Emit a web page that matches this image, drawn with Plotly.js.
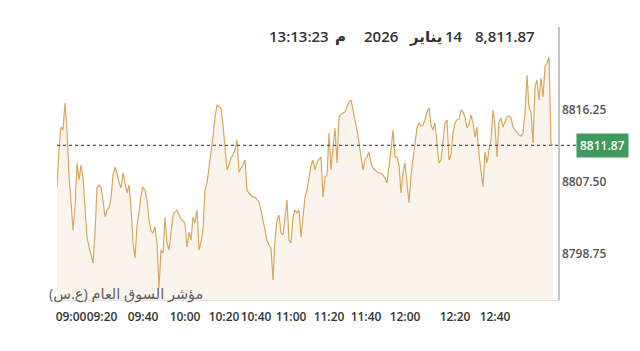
<!DOCTYPE html>
<html>
<head>
<meta charset="utf-8">
<script src="https://cdn.plot.ly/plotly-3.0.1.min.js"></script>
<style>html,body{margin:0;padding:0;background:#fff;}#chart{width:640px;height:351px;}</style>
</head>
<body>
<div id="chart"></div>
<script>
// Index values (one per trade sample)
const values = [
8806.81,8811.30,8814.10,8813.73,8817.02,8813.73,8808.27,8804.62,8801.58,8804.38,
8809.73,8807.66,8809.48,8808.02,8804.01,8800.73,8799.52,8798.67,8797.58,8801.22,
8806.69,8807.05,8806.81,8805.23,8803.16,8804.01,8804.26,8805.47,8808.27,8809.24,
8808.51,8807.42,8806.69,8808.51,8807.30,8806.08,8807.05,8804.38,8800.01,8798.18,
8802.19,8803.65,8805.84,8806.81,8806.44,8805.23,8802.80,8801.46,8801.22,8801.95,
8800.01,8794.54,8799.15,8798.79,8803.16,8800.01,8799.15,8800.98,8803.41,8803.77,
8804.01,8803.41,8802.92,8802.68,8802.44,8799.52,8801.34,8800.37,8803.16,8802.44,
8804.01,8799.15,8800.13,8801.58,8806.44,8807.30,8809.12,8810.94,8812.88,8815.31,
8816.77,8816.53,8816.41,8814.34,8811.67,8808.87,8809.48,8810.33,8810.70,8811.30,
8812.52,8808.63,8809.12,8809.48,8810.09,8806.44,8806.08,8805.84,8805.59,8805.59,
8805.35,8804.99,8804.01,8802.56,8801.58,8800.37,8799.76,8799.40,8795.51,8800.37,
8802.80,8803.41,8801.22,8800.98,8802.80,8805.23,8800.37,8800.01,8803.16,8804.01,
8803.65,8804.01,8800.73,8803.41,8805.59,8806.44,8807.90,8809.36,8810.09,8808.87,
8809.73,8810.21,8810.45,8805.59,8808.02,8808.27,8813.37,8808.87,8811.67,8813.98,
8809.73,8815.31,8815.68,8815.80,8815.92,8816.53,8817.14,8817.38,8816.16,8815.31,
8813.73,8812.16,8810.70,8808.87,8810.09,8810.45,8811.06,8809.73,8809.12,8808.87,
8808.63,8808.51,8808.51,8808.27,8807.90,8807.30,8809.12,8811.30,8813.73,8810.45,
8810.45,8809.48,8806.08,8808.51,8809.73,8806.81,8804.87,8808.27,8810.09,8811.67,
8813.98,8814.59,8814.22,8814.34,8814.95,8815.92,8816.41,8814.34,8813.73,8814.59,
8811.67,8809.73,8810.09,8812.16,8814.59,8814.95,8810.09,8810.70,8813.37,8814.59,
8814.95,8815.07,8816.16,8815.92,8815.31,8813.98,8814.34,8815.56,8814.59,8812.88,
8814.10,8810.70,8808.87,8806.81,8811.06,8809.73,8811.30,8812.52,8816.16,8814.10,
8810.45,8814.71,8815.19,8814.10,8814.71,8815.31,8815.44,8815.19,8814.10,8813.73,
8813.37,8813.13,8813.01,8813.37,8815.80,8820.42,8816.41,8815.92,8812.16,8818.96,
8819.81,8817.38,8820.05,8817.74,8821.39,8821.88,8822.60,8812.10,8811.87
];
const sampleIndex = values.map((v, i) => i);

// Time tick labels and the sample index where each falls
const tickLabels = ["09:00","09:20","09:40","10:00","10:20","10:40","11:00","11:20","11:40","12:00","12:20","12:40"];
const tickIndex  = [7, 22.5, 43, 64, 83.5, 99.5, 117, 136, 154.5, 174, 199, 219];

// Price axis ticks
const priceTicks = [8798.75, 8807.50, 8816.25];

const lastValue = 8811.87;
const headerValue = "8,811.87";
const headerDay = "14";
const headerMonth = "يناير";
const headerYear = "2026";
const headerTime = "13:13:23";
const headerPM = "م";
const indexName = "مؤشر السوق العام (ع.س)";

const trace = {
  x: sampleIndex,
  y: values,
  type: 'scatter',
  mode: 'lines',
  line: {color: '#d9a75c', width: 1.2},
  fill: 'tozeroy',
  fillcolor: 'rgba(244,230,215,0.45)',
  hoverinfo: 'skip'
};

const baseFont = {family: '"Open Sans", "DejaVu Sans", sans-serif'};
const headFont = Object.assign({}, baseFont, {size: 15, color: '#333', weight: 600});

function head(text, x, anchor) {
  return {xref: 'paper', yref: 'paper', x: x, y: 0.967, text: text,
          showarrow: false, xanchor: anchor, yanchor: 'middle', font: headFont};
}

const layout = {
  width: 640, height: 351,
  margin: {l: 57, r: 82, t: 27, b: 51, pad: 0},
  paper_bgcolor: '#ffffff',
  plot_bgcolor: '#ffffff',
  showlegend: false,
  font: Object.assign({}, baseFont, {color: '#333'}),
  xaxis: {
    range: [0, 250.5],
    tickvals: tickIndex,
    ticktext: tickLabels,
    tickangle: 0,
    ticks: '',
    ticklabelstandoff: 6,
    showgrid: false,
    zeroline: false,
    showline: true,
    linecolor: '#e3e3e3',
    linewidth: 1,
    tickfont: Object.assign({}, baseFont, {size: 12, color: '#333', weight: 600}),
    fixedrange: true
  },
  yaxis: {
    side: 'right',
    range: [8793.08, 8826.25],
    tickvals: priceTicks,
    tickformat: '.2f',
    ticks: '',
    showgrid: false,
    zeroline: false,
    showline: true,
    linecolor: '#c4c4c4',
    linewidth: 1.5,
    tickfont: Object.assign({}, baseFont, {size: 12, color: '#555', weight: 600}),
    fixedrange: true
  },
  shapes: [
    {type: 'line', xref: 'paper', yref: 'y', x0: 0, x1: 1.036, y0: lastValue, y1: lastValue,
     line: {color: '#555', width: 1.3, dash: 'dot'}, layer: 'above'}
  ],
  annotations: [
    {xref: 'paper', yref: 'y', x: 1.088, y: lastValue, text: lastValue.toFixed(2),
     showarrow: false, xanchor: 'center', yanchor: 'middle',
     bgcolor: '#3f9a5e', borderpad: 3,
     font: Object.assign({}, baseFont, {size: 12, color: '#ffffff', weight: 600})},
    head(headerValue, 0.958, 'right'),
    head(headerDay, 0.814, 'right'),
    head(headerMonth, 0.735, 'center'),
    head(headerYear, 0.685, 'right'),
    head(headerPM, 0.565, 'center'),
    head(headerTime, 0.547, 'right'),
    {xref: 'paper', yref: 'paper', x: -0.02, y: 0.022, text: indexName,
     showarrow: false, xanchor: 'left', yanchor: 'middle',
     font: Object.assign({}, baseFont, {size: 14.5, color: '#5f5f5f'})}
  ]
};

Plotly.newPlot('chart', [trace], layout, {displayModeBar: false, staticPlot: true});
</script>
</body>
</html>
